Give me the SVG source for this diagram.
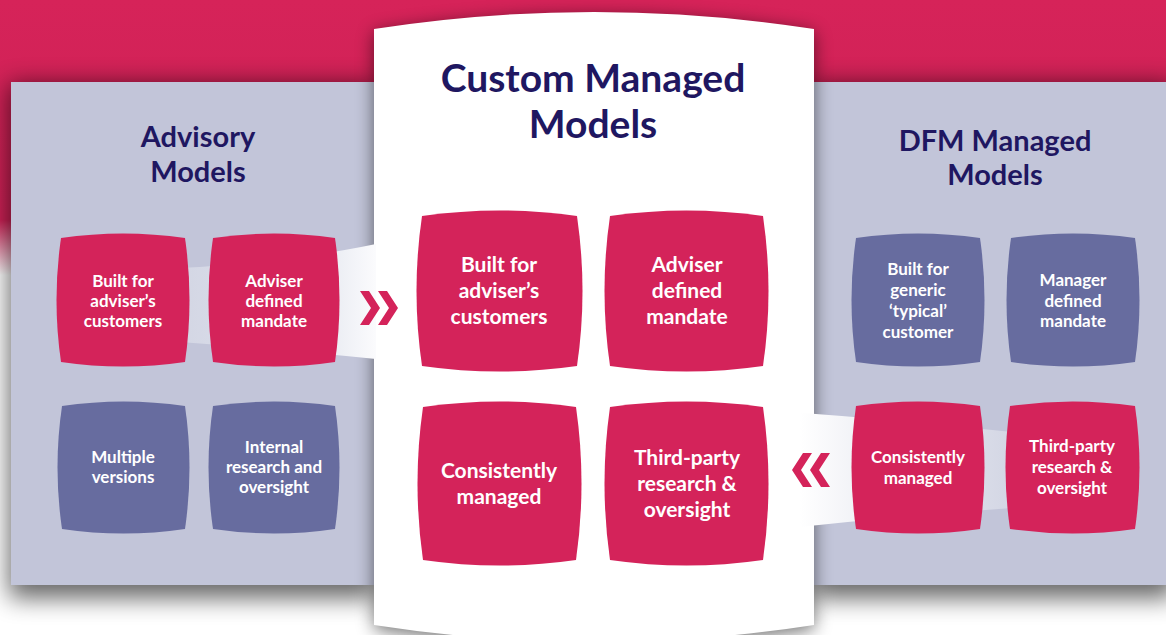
<svg xmlns="http://www.w3.org/2000/svg" width="1166" height="635" viewBox="0 0 1166 635">
<defs>
<style>
.panel{fill:#c2c5d9}
.crim{fill:#d4235a}
.purp{fill:#676c9f}
.title{font-family:Lato,"Open Sans","Liberation Sans",sans-serif;font-weight:700;fill:#1f1761;text-anchor:middle}
.t28{font-size:29px}
.t40{font-size:39px}
.nt{font-family:Lato,"Open Sans","Liberation Sans",sans-serif;font-weight:700;fill:#ffffff;text-anchor:middle}
.s17{font-size:17px}
.s21{font-size:21px}
.chev{fill:#d4235a}
</style>
<linearGradient id="gCrim" gradientUnits="userSpaceOnUse" x1="0" y1="0" x2="0" y2="275">
<stop offset="0" stop-color="#d62359"/>
<stop offset="0.8" stop-color="#cc2155"/>
<stop offset="1" stop-color="#cc2155" stop-opacity="0"/>
</linearGradient>
<linearGradient id="gBandL" gradientUnits="userSpaceOnUse" x1="180" y1="0" x2="376" y2="0">
<stop offset="0" stop-color="#d3d6e4"/>
<stop offset="0.2" stop-color="#d7dae7"/>
<stop offset="0.8" stop-color="#eceef4"/>
<stop offset="1" stop-color="#fbfbfd"/>
</linearGradient>
<linearGradient id="gBandR" gradientUnits="userSpaceOnUse" x1="800" y1="0" x2="1012" y2="0">
<stop offset="0" stop-color="#ffffff"/>
<stop offset="0.25" stop-color="#f2f3f7"/>
<stop offset="1" stop-color="#d3d6e4"/>
</linearGradient>
<filter id="shSide" x="-20%" y="-20%" width="140%" height="140%">
<feGaussianBlur stdDeviation="12"/>
</filter>
<filter id="shCenter" x="-20%" y="-20%" width="140%" height="140%">
<feGaussianBlur stdDeviation="9"/>
</filter>
</defs>

<g id="background">
<rect x="0" y="0" width="1166" height="635" fill="#ffffff"/>
<rect x="0" y="0" width="1166" height="275" fill="url(#gCrim)"/>
<g opacity="0.6" filter="url(#shSide)">
<rect x="9" y="84" width="367" height="514" fill="#000"/>
<rect x="812" y="84" width="362" height="514" fill="#000"/>
</g>
</g>

<g id="panel-advisory">
<rect class="panel" x="11" y="82" width="363" height="503"/>
<text class="title t28" x="198" y="147">Advisory</text>
<text class="title t28" x="198" y="182">Models</text>
</g>

<g id="panel-dfm">
<rect class="panel" x="814" y="82" width="352" height="503"/>
<text class="title t28" x="995" y="151">DFM Managed</text>
<text class="title t28" x="995" y="185">Models</text>
</g>

<g id="panel-custom">
<path d="M374,33 Q594,-1 814,33 L814,629 Q594,663 374,629 Z" fill="#000" opacity="0.55" filter="url(#shCenter)"/>
<path d="M374,29 Q594,-5 814,29 L814,625 Q594,659 374,625 Z" fill="#ffffff"/>
<text class="title t40" x="593" y="92">Custom Managed</text>
<text class="title t40" x="593" y="138">Models</text>
</g>

<g id="connectors">
<path d="M180,268 Q290,262 376,244 L376,359 Q290,350 180,342 Z" fill="url(#gBandL)"/>
<path d="M790,412 Q900,420 1012,432 L1012,508 Q900,516 790,528 Z" fill="url(#gBandR)"/>
<polygon class="chev" points="360,291 369,291 380,308 369,325 360,325 371,308"/>
<polygon class="chev" points="378,291 387,291 398,308 387,325 378,325 389,308"/>
<polygon class="chev" points="803,453 812,453 801,470 812,487 803,487 792,470"/>
<polygon class="chev" points="821,453 830,453 819,470 830,487 821,487 810,470"/>
</g>

<g id="adv-built">
<path class="crim" d="M61,238 Q123,229 185,238 Q194,300 185,362 Q123,371 61,362 Q52,300 61,238Z"/>
<text class="nt s17" x="123" y="287">Built for</text>
<text class="nt s17" x="123" y="307">adviser’s</text>
<text class="nt s17" x="123" y="327">customers</text>
</g>
<g id="adv-mandate">
<path class="crim" d="M213,238 Q274,229 335,238 Q344,300 335,362 Q274,371 213,362 Q204,300 213,238Z"/>
<text class="nt s17" x="274" y="287">Adviser</text>
<text class="nt s17" x="274" y="307">defined</text>
<text class="nt s17" x="274" y="327">mandate</text>
</g>
<g id="adv-versions">
<path class="purp" d="M62,406 Q123.5,397 185,406 Q194,467.5 185,529 Q123.5,538 62,529 Q53,467.5 62,406Z"/>
<text class="nt s17" x="123" y="463">Multiple</text>
<text class="nt s17" x="123" y="483">versions</text>
</g>
<g id="adv-research">
<path class="purp" d="M213,406 Q274,397 335,406 Q344,467.5 335,529 Q274,538 213,529 Q204,467.5 213,406Z"/>
<text class="nt s17" x="274" y="453">Internal</text>
<text class="nt s17" x="274" y="473">research and</text>
<text class="nt s17" x="274" y="493">oversight</text>
</g>

<g id="cus-built">
<path class="crim" d="M422,216 Q499.5,205 577,216 Q588,291 577,366 Q499.5,377 422,366 Q411,291 422,216Z"/>
<text class="nt s21" x="499" y="272">Built for</text>
<text class="nt s21" x="499" y="298">adviser’s</text>
<text class="nt s21" x="499" y="324">customers</text>
</g>
<g id="cus-mandate">
<path class="crim" d="M610,216 Q686.5,205 763,216 Q774,291 763,366 Q686.5,377 610,366 Q599,291 610,216Z"/>
<text class="nt s21" x="687" y="272">Adviser</text>
<text class="nt s21" x="687" y="298">defined</text>
<text class="nt s21" x="687" y="324">mandate</text>
</g>
<g id="cus-consistent">
<path class="crim" d="M423,407 Q499.5,396 576,407 Q587,483.5 576,560 Q499.5,571 423,560 Q412,483.5 423,407Z"/>
<text class="nt s21" x="499" y="478">Consistently</text>
<text class="nt s21" x="499" y="504">managed</text>
</g>
<g id="cus-thirdparty">
<path class="crim" d="M610,407 Q686.5,396 763,407 Q774,483.5 763,560 Q686.5,571 610,560 Q599,483.5 610,407Z"/>
<text class="nt s21" x="687" y="465">Third-party</text>
<text class="nt s21" x="687" y="491">research &amp;</text>
<text class="nt s21" x="687" y="517">oversight</text>
</g>

<g id="dfm-built">
<path class="purp" d="M856,238 Q918,229 980,238 Q989,300 980,362 Q918,371 856,362 Q847,300 856,238Z"/>
<text class="nt s17" x="918" y="275">Built for</text>
<text class="nt s17" x="918" y="296">generic</text>
<text class="nt s17" x="918" y="317">‘typical’</text>
<text class="nt s17" x="918" y="338">customer</text>
</g>
<g id="dfm-mandate">
<path class="purp" d="M1011,238 Q1073,229 1135,238 Q1144,300 1135,362 Q1073,371 1011,362 Q1002,300 1011,238Z"/>
<text class="nt s17" x="1073" y="286">Manager</text>
<text class="nt s17" x="1073" y="307">defined</text>
<text class="nt s17" x="1073" y="327">mandate</text>
</g>
<g id="dfm-consistent">
<path class="crim" d="M856,406 Q918,397 980,406 Q989,467.5 980,529 Q918,538 856,529 Q847,467.5 856,406Z"/>
<text class="nt s17" x="918" y="463">Consistently</text>
<text class="nt s17" x="918" y="484">managed</text>
</g>
<g id="dfm-thirdparty">
<path class="crim" d="M1010,406 Q1072.5,397 1135,406 Q1144,467.5 1135,529 Q1072.5,538 1010,529 Q1001,467.5 1010,406Z"/>
<text class="nt s17" x="1072" y="452">Third-party</text>
<text class="nt s17" x="1072" y="473">research &amp;</text>
<text class="nt s17" x="1072" y="494">oversight</text>
</g>
</svg>
